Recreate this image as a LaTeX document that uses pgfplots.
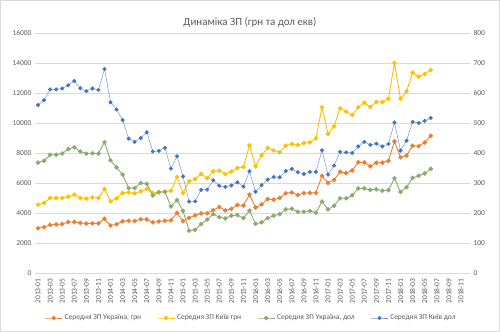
\documentclass[border=0pt]{standalone}
\usepackage{pgfplots}
\pgfplotsset{compat=1.18}
\usepackage{pgfplotstable}
\usepackage{fontspec}
\setmainfont{Carlito}
\definecolor{txt}{HTML}{595959}
\definecolor{cor}{HTML}{ED7D31}
\definecolor{cye}{HTML}{FFC000}
\definecolor{cgr}{RGB}{140,170,110}
\definecolor{cbl}{HTML}{4472C4}
\definecolor{grd}{HTML}{D9D9D9}

\pgfplotstableread{
x ua kyiv uausd kyivusd
0 2981 4556 368 560
1 3054 4667 374 576
2 3207 5000 394 612
3 3237 5000 394 612
4 3265 5000 398 615
5 3395 5089 413 626
6 3405 5222 419 640
7 3339 5000 405 616
8 3297 4956 398 606
9 3313 5044 399 615
10 3309 5000 398 610
11 3619 5600 436 680
12 3165 4778 376 569
13 3253 4978 352 545
14 3449 5333 328 510
15 3476 5378 283 448
16 3460 5311 283 437
17 3582 5444 300 450
18 3573 5600 297 469
19 3376 5350 258 405
20 3436 5400 269 407
21 3482 5420 271 417
22 3509 5489 222 348
23 4012 6400 243 389
24 3455 5333 207 322
25 3674 6111 141 238
26 3843 6267 144 239
27 3971 6600 163 277
28 3981 6311 178 278
29 4187 6778 196 309
30 4402 6822 186 291
31 4172 6600 182 287
32 4277 6756 191 292
33 4534 7000 193 302
34 4498 7067 183 288
35 5230 8511 208 339
36 4362 7111 164 271
37 4575 7844 169 293
38 4935 8333 183 311
39 4887 8178 191 320
40 5002 8044 196 319
41 5311 8489 212 340
42 5369 8600 214 347
43 5202 8533 204 336
44 5325 8667 204 330
45 5343 8711 207 337
46 5349 8978 201 337
47 6475 11044 238 409
48 6008 9267 212 328
49 6209 9778 224 358
50 6752 10978 249 404
51 6659 10756 249 402
52 6840 10533 259 400
53 7382 11044 282 422
54 7373 11356 282 437
55 7114 11067 277 427
56 7351 11400 279 431
57 7355 11400 274 422
58 7479 11622 276 430
59 8777 14000 316 502
60 7711 11622 270 408
61 7828 12111 286 441
62 8480 13356 317 504
63 8461 13089 324 500
64 8697 13267 332 507
65 9141 13533 347 517
}\data

\pgfplotsset{
  base/.style={
    at={(35bp,59bp)}, anchor=south west,
    scale only axis, width=435bp, height=240bp,
    xmin=-0.5, xmax=71.5,
    axis line style={draw=none},
    major tick length=0pt,
    tick label style={font=\fontsize{7.5}{9}\selectfont, text=txt},
    scaled y ticks=false,
    /pgf/number format/assume math mode=true,
    /pgf/number format/1000 sep={},
    /pgf/number format/fixed,
    clip=false,
  },
  sor/.style={color=cor, line width=0.9pt, mark=*, mark size=1.8pt, mark options={solid, fill=cor, draw=cor}},
  sye/.style={color=cye, line width=0.9pt, mark=*, mark size=1.8pt, mark options={solid, fill=cye, draw=cye}},
  sgr/.style={color=cgr, line width=0.9pt, mark=*, mark size=1.8pt, mark options={solid, fill=cgr, draw=cgr}},
  sbl/.style={color=cbl!75, line width=0.5pt, mark=*, mark size=1.8pt, mark options={solid, fill=cbl, draw=cbl}},
}

\begin{document}
\begin{tikzpicture}
\path[use as bounding box] (0,0) rectangle (500bp,332bp);
\draw[grd, line width=0.6pt] (0.5bp,0.5bp) rectangle (499.5bp,331.5bp);
\node[text=txt, font=\fontsize{11}{13}\selectfont] at (250bp,310bp) {Динаміка ЗП (грн та дол екв)};

\begin{axis}[base,
  ymin=0, ymax=16000, ytick={0,2000,...,16000},
  ymajorgrids, grid style={grd, line width=0.6pt},
  xtick={0,2,...,70},
  xticklabels={2013-01,2013-03,2013-05,2013-07,2013-09,2013-11,
    2014-01,2014-03,2014-05,2014-07,2014-09,2014-11,
    2015-01,2015-03,2015-05,2015-07,2015-09,2015-11,
    2016-01,2016-03,2016-05,2016-07,2016-09,2016-11,
    2017-01,2017-03,2017-05,2017-07,2017-09,2017-11,
    2018-01,2018-03,2018-05,2018-07,2018-09,2018-11},
  xticklabel style={rotate=90, anchor=east, xshift=-2bp},
  legend style={at={(0.497,-0.1875)}, anchor=center, draw=none, fill=none,
    font=\fontsize{7.5}{9}\selectfont, text=txt,
    /tikz/every even column/.append style={column sep=14bp}},
  legend columns=4, legend cell align=left,
]
\addplot[sor] table[x=x, y=ua] {\data};
\addlegendentry{Середня ЗП Україна, грн}
\addplot[sye] table[x=x, y=kyiv] {\data};
\addlegendentry{Середня ЗП Київ грн}
\addlegendimage{sgr}
\addlegendentry{Середня ЗП Україна, дол}
\addlegendimage{sbl}
\addlegendentry{Середня ЗП Київ дол}
\end{axis}

\begin{axis}[base,
  ymin=0, ymax=800, ytick={0,100,...,800},
  yticklabel pos=right,
  xtick=\empty,
]
\addplot[sgr] table[x=x, y=uausd] {\data};
\addplot[sbl] table[x=x, y=kyivusd] {\data};
\end{axis}
\end{tikzpicture}
\end{document}
